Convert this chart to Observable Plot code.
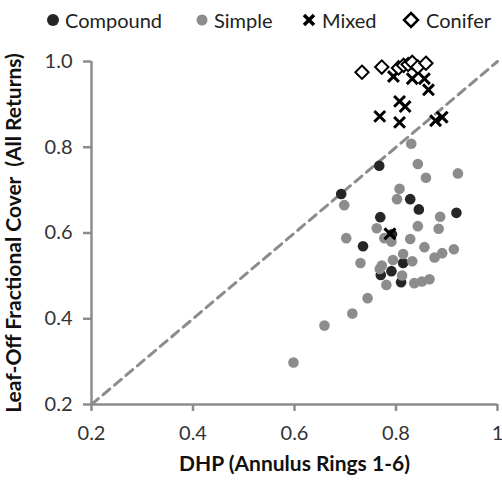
<!DOCTYPE html>
<html><head><meta charset="utf-8">
<script src="https://cdn.jsdelivr.net/npm/d3@7"></script>
<script src="https://cdn.jsdelivr.net/npm/@observablehq/plot@0.6"></script>
<style>
body{margin:0;background:#fff;font-family:Lato,sans-serif}
#legend{position:relative;height:38px;width:502px}
.item{position:absolute;top:6px;height:28px;font-size:20px;color:#222;display:flex;align-items:center}
.item svg{margin-right:5px}
</style></head>
<body><div id="legend"></div><div id="chart"></div>
<script>
const categories = ["Compound", "Simple", "Mixed", "Conifer"];
const compoundX = [0.767,0.692,0.828,0.845,0.919,0.769,0.792,0.735,0.814,0.791,0.770,0.810];
const compoundY = [0.757,0.691,0.679,0.655,0.647,0.637,0.597,0.569,0.530,0.511,0.502,0.485];
const simpleX = [0.830,0.843,0.859,0.922,0.698,0.807,0.802,0.887,0.843,0.884,0.762,0.777,0.791,0.828,0.702,0.856,0.914,0.891,0.876,0.730,0.814,0.794,0.832,0.772,0.768,0.812,0.781,0.836,0.851,0.866,0.744,0.714,0.659,0.598];
const simpleY = [0.808,0.761,0.729,0.739,0.665,0.703,0.679,0.638,0.616,0.610,0.611,0.588,0.580,0.586,0.588,0.567,0.562,0.553,0.543,0.530,0.551,0.537,0.534,0.524,0.516,0.501,0.479,0.483,0.487,0.492,0.448,0.412,0.384,0.298];
const mixedX = [0.795,0.832,0.856,0.864,0.807,0.818,0.768,0.807,0.878,0.891,0.788];
const mixedY = [0.965,0.960,0.960,0.934,0.907,0.895,0.872,0.858,0.862,0.870,0.598];
const coniferX = [0.733,0.772,0.805,0.815,0.824,0.832,0.843,0.859];
const coniferY = [0.975,0.987,0.985,0.991,0.993,0.998,0.987,0.996];
const xTicks = [0.2, 0.4, 0.6, 0.8, 1.0];
const yTicks = [0.2, 0.4, 0.6, 0.8, 1.0];
const diagonal = [0.2, 1.0];
const xTitle = "DHP (Annulus Rings 1-6)";
const yTitle = "Leaf-Off Fractional Cover  (All Returns)";

const toRows = (xs, ys) => xs.map((x, i) => ({x, y: ys[i]}));
const compound = toRows(compoundX, compoundY);
const simple = toRows(simpleX, simpleY);
const mixed = toRows(mixedX, mixedY);
const conifer = toRows(coniferX, coniferY);

// legend
const legendPos = [46, 195, 301, 401];
const icons = [
  '<svg width="14" height="14"><circle cx="7" cy="7" r="6" fill="#262626"/></svg>',
  '<svg width="14" height="14"><circle cx="7" cy="7" r="5.5" fill="#8c8c8c"/></svg>',
  '<svg width="16" height="16"><path d="M3,3L13,13M13,3L3,13" stroke="#000" stroke-width="3.5"/></svg>',
  '<svg width="20" height="20"><path d="M10,3L17,10L10,17L3,10Z" fill="#fff" stroke="#000" stroke-width="2.5"/></svg>'
];
const legend = document.getElementById("legend");
categories.forEach((c, i) => {
  const d = document.createElement("div");
  d.className = "item";
  d.style.left = legendPos[i] + "px";
  d.innerHTML = icons[i] + "<span>" + c + "</span>";
  legend.appendChild(d);
});

const axisGray = "#8c8c8c";
const chart = Plot.plot({
  width: 502, height: 447,
  marginLeft: 91, marginRight: 5, marginTop: 23, marginBottom: 81,
  style: {fontFamily: "Lato, sans-serif", fontSize: "20px", background: "white", color: "#333", overflow: "visible"},
  x: {domain: [0.2, 1]},
  y: {domain: [0.2, 1]},
  marks: [
    Plot.ruleX([0.2], {stroke: axisGray, strokeWidth: 2.5}),
    Plot.ruleY([0.2], {stroke: axisGray, strokeWidth: 2.5}),
    Plot.axisX({ticks: xTicks, tickSize: 7, tickPadding: 14, stroke: axisGray, strokeWidth: 2.5, fill: "#333",
      tickFormat: d => d === 1 ? "1" : d.toFixed(1), label: null}),
    Plot.axisY({ticks: yTicks, tickSize: 8, tickPadding: 11, stroke: axisGray, strokeWidth: 2.5, fill: "#333",
      tickFormat: d => d.toFixed(1), label: null}),
    Plot.line(diagonal, {x: d => d, y: d => d, stroke: axisGray, strokeWidth: 3, strokeDasharray: "9,6"}),
    Plot.dot(compound, {x: "x", y: "y", r: 5.3, fill: "#262626"}),
    Plot.dot(simple, {x: "x", y: "y", r: 5.3, fill: "#8c8c8c"}),
    Plot.dot(mixed, {x: "x", y: "y", r: 5, symbol: "times", stroke: "#000", strokeWidth: 3}),
    Plot.dot(conifer, {x: "x", y: "y", r: 6, symbol: "diamond2", fill: "#fff", stroke: "#000", strokeWidth: 2}),
    Plot.text([xTitle], {text: d => d, frameAnchor: "bottom", textAnchor: "middle", dy: 66, fontWeight: "bold", fill: "#111", fontSize: 21}),
    Plot.text([yTitle], {text: d => d, frameAnchor: "left", textAnchor: "middle", rotate: -90, dx: -77, fontWeight: "bold", fill: "#111", fontSize: 21})
  ]
});
document.getElementById("chart").appendChild(chart);
</script>
</body></html>
